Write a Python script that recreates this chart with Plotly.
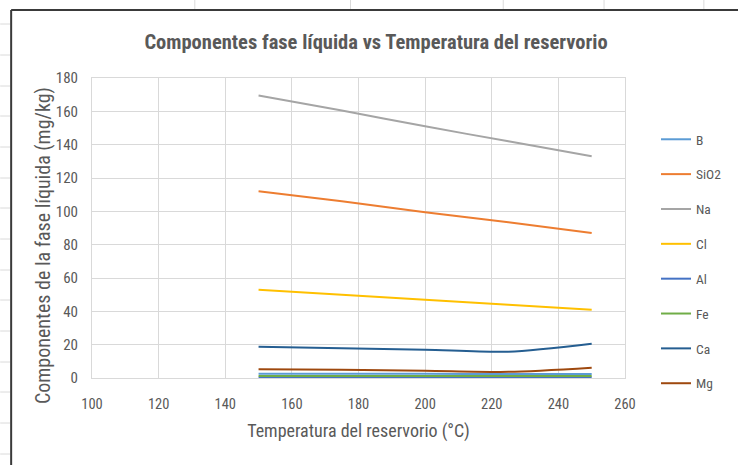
import plotly.graph_objects as go

# Reservoir temperatures (°C)
temperatura = [150, 175, 200, 225, 250]

# Liquid-phase concentrations (mg/kg)
B = [2.6, 2.5, 2.5, 2.4, 2.4]
SiO2 = [112, 106, 99.5, 93.5, 87]
Na = [169.5, 160.5, 151, 142, 133]
Cl = [53, 50, 47, 44, 41]
Al = [0.3, 0.3, 0.3, 0.3, 0.3]
Fe = [1.2, 1.2, 1.2, 1.2, 1.2]
Ca = [18.8, 17.8, 17.0, 15.8, 20.6]
Mg = [5.2, 4.9, 4.4, 3.7, 6.2]

series = [
    ("B", B, "#5B9BD5"),
    ("SiO2", SiO2, "#ED7D31"),
    ("Na", Na, "#A5A5A5"),
    ("Cl", Cl, "#FFC000"),
    ("Al", Al, "#4472C4"),
    ("Fe", Fe, "#70AD47"),
    ("Ca", Ca, "#255E91"),
    ("Mg", Mg, "#9E480E"),
]

W, H = 738, 465
L, R, T, Bm = 92, 112, 78, 87
FONT = "Liberation Sans Narrow, Roboto Condensed, DejaVu Sans Condensed, Roboto, sans-serif"
TXT = "#595959"
GRID = "#D9D9D9"

fig = go.Figure()
for i, (name, vals, color) in enumerate(series):
    fig.add_trace(go.Scatter(
        x=temperatura, y=vals, name=name, mode="lines",
        line=dict(color=color, width=2, shape="spline", smoothing=0.8),
        legendgroup=f"g{i}",
    ))


def px_x(px):
    return (px - L) / (W - L - R)


def px_y(py):
    return 1 - (py - T) / (H - T - Bm)


shapes = []
sheet_line = dict(color="#DADADA", width=1)
# worksheet row lines to the left of the chart frame
for ry in [24, 55, 86, 116, 147, 178, 208, 239, 270, 300, 331, 362, 392, 423, 454]:
    shapes.append(dict(type="line", xref="paper", yref="paper",
                       x0=px_x(0), x1=px_x(10), y0=px_y(ry), y1=px_y(ry),
                       line=sheet_line, layer="below"))
# worksheet column lines above the chart frame
for cx in [195, 351, 504, 605, 705]:
    shapes.append(dict(type="line", xref="paper", yref="paper",
                       x0=px_x(cx), x1=px_x(cx), y0=px_y(0), y1=px_y(9),
                       line=sheet_line, layer="below"))
# chart frame
frame = dict(color="#3A3A3A", width=2)
shapes.append(dict(type="line", xref="paper", yref="paper",
                   x0=px_x(11), x1=px_x(11), y0=px_y(10), y1=px_y(H + 5), line=frame))
shapes.append(dict(type="line", xref="paper", yref="paper",
                   x0=px_x(11), x1=px_x(W + 5), y0=px_y(10), y1=px_y(10), line=frame))

fig.update_layout(
    width=W, height=H,
    margin=dict(l=L, r=R, t=T, b=Bm, pad=0),
    paper_bgcolor="white", plot_bgcolor="white",
    font=dict(family=FONT, color=TXT, size=13),
    title=dict(text="<b>Componentes fase líquida vs Temperatura del reservorio</b>",
               x=376 / W, xanchor="center",
               y=1 - 42 / H, yanchor="middle",
               font=dict(size=20.5, color=TXT, family=FONT)),
    xaxis=dict(range=[100, 260], dtick=20, tick0=100,
               showgrid=True, gridcolor=GRID, gridwidth=1,
               showline=True, linecolor=GRID, mirror=True,
               zeroline=False, ticks="", ticklabelstandoff=13,
               tickfont=dict(size=14.5, color=TXT),
               title=dict(text="Temperatura del reservorio (°C)",
                          font=dict(size=18, color=TXT), standoff=11)),
    yaxis=dict(range=[0, 180], dtick=20, tick0=0,
               showgrid=True, gridcolor=GRID, gridwidth=1,
               showline=True, linecolor=GRID, mirror=True,
               zeroline=False, ticks="", ticklabelstandoff=10,
               tickfont=dict(size=15, color=TXT)),
    annotations=[dict(text="Componentes de la fase líquida (mg/kg)",
                      xref="paper", yref="paper", x=px_x(43), y=px_y(246),
                      xanchor="center", yanchor="middle", textangle=-90,
                      showarrow=False, font=dict(size=20, color=TXT))],
    legend=dict(x=px_x(656), y=px_y(124), xanchor="left", yanchor="top",
                font=dict(size=13.5, color=TXT), tracegroupgap=14.3,
                bgcolor="rgba(0,0,0,0)", itemwidth=30),
    shapes=shapes,
    showlegend=True,
)

fig.write_html("out.html")
